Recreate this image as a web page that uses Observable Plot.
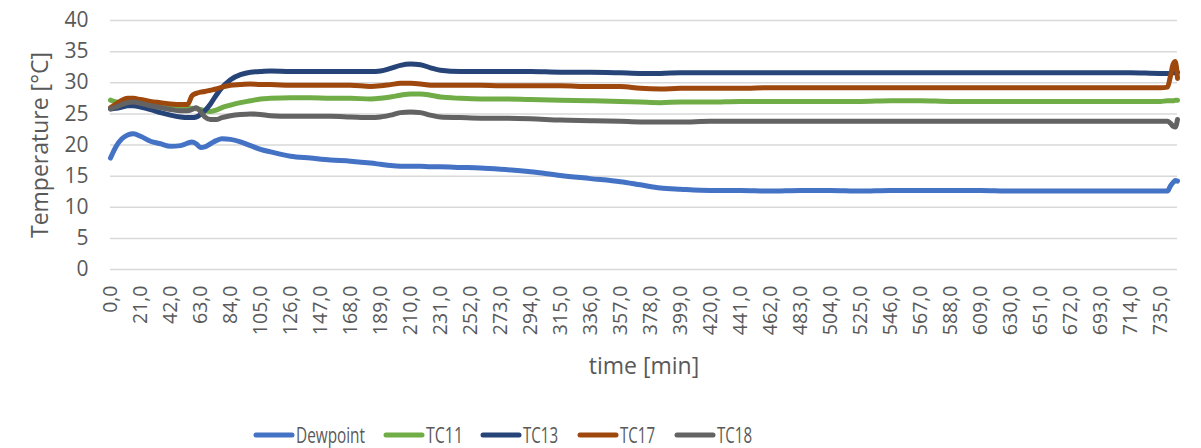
<!DOCTYPE html>
<html>
<head>
<meta charset="utf-8">
<script src="https://cdn.jsdelivr.net/npm/d3@7"></script>
<script src="https://cdn.jsdelivr.net/npm/@observablehq/plot@0.6"></script>
<style>
  html, body { margin: 0; padding: 0; background: #fff; }
  #wrap { width: 1201px; height: 448px; overflow: hidden; font-family: "Open Sans", sans-serif; }
  #wrap svg { display: block; }
</style>
</head>
<body>
<div id="wrap"></div>
<script>
// ---- data ----
const seriesNames = ["Dewpoint", "TC11", "TC13", "TC17", "TC18"];
const seriesColors = ["#4472C4", "#70AD47", "#264478", "#9E480E", "#636363"];

const timeMin = [0,4,8,12,16,21,28,35,42,49,54,57,60,63,66,70,74,78,84,91,98,105,112,126,140,154,168,182,189,196,203,210,217,224,231,245,259,273,294,315,336,357,371,385,399,420,441,462,483,504,525,546,567,588,609,630,651,672,693,714,735,740,742,744,745.5,747];

const dewpoint = [17.9,19.8,21.0,21.6,21.8,21.4,20.6,20.2,19.8,19.9,20.3,20.5,20.2,19.6,19.7,20.2,20.7,21.0,20.9,20.5,19.9,19.3,18.9,18.2,17.9,17.6,17.4,17.1,16.9,16.7,16.6,16.6,16.6,16.5,16.5,16.4,16.3,16.1,15.7,15.1,14.6,14.1,13.6,13.1,12.9,12.7,12.7,12.6,12.7,12.7,12.6,12.7,12.7,12.7,12.7,12.6,12.6,12.6,12.6,12.6,12.6,12.6,13.4,14.0,14.3,14.2];

const tc11 = [27.2,26.9,26.8,26.8,26.8,26.7,26.5,26.3,26.1,26.0,25.9,25.9,25.8,25.7,25.5,25.4,25.6,26.0,26.4,26.8,27.1,27.4,27.5,27.6,27.6,27.5,27.5,27.4,27.5,27.7,28.0,28.2,28.2,28.0,27.7,27.5,27.4,27.4,27.3,27.2,27.1,27.0,26.9,26.8,26.9,26.9,27.0,27.0,27.0,27.0,27.0,27.1,27.1,27.0,27.0,27.0,27.0,27.0,27.0,27.0,27.0,27.1,27.1,27.1,27.2,27.2];

const tc13 = [25.8,25.9,26.1,26.3,26.3,26.1,25.7,25.2,24.8,24.5,24.4,24.4,24.5,24.9,25.5,26.6,28.0,29.2,30.5,31.3,31.7,31.8,31.9,31.8,31.8,31.8,31.8,31.8,31.9,32.3,32.8,33.0,32.9,32.4,32.0,31.8,31.8,31.8,31.8,31.7,31.7,31.6,31.5,31.5,31.6,31.6,31.6,31.6,31.6,31.6,31.6,31.6,31.6,31.6,31.6,31.6,31.6,31.6,31.6,31.6,31.5,31.5,31.5,31.6,31.6,31.7];

const tc17 = [26.0,26.6,27.2,27.5,27.5,27.3,27.0,26.8,26.6,26.5,26.5,27.9,28.3,28.5,28.6,28.8,29.0,29.3,29.6,29.7,29.8,29.7,29.7,29.6,29.6,29.6,29.6,29.4,29.5,29.7,29.9,29.9,29.8,29.6,29.6,29.6,29.6,29.5,29.5,29.5,29.4,29.4,29.1,29.0,29.1,29.1,29.1,29.2,29.2,29.2,29.2,29.2,29.2,29.2,29.2,29.2,29.2,29.2,29.2,29.2,29.2,29.3,31.0,33.0,33.4,30.7];

const tc18 = [25.8,26.1,26.5,26.8,26.9,26.7,26.3,26.0,25.7,25.5,25.5,25.7,26.0,25.4,24.5,24.1,24.1,24.4,24.7,24.9,25.0,24.9,24.7,24.6,24.6,24.6,24.5,24.4,24.5,24.8,25.2,25.3,25.2,24.8,24.5,24.4,24.3,24.3,24.2,24.0,23.9,23.8,23.7,23.7,23.7,23.8,23.8,23.8,23.8,23.8,23.8,23.8,23.8,23.8,23.8,23.8,23.8,23.8,23.8,23.8,23.8,23.8,23.5,23.0,22.9,24.1];

const xTicks = d3.range(0, 736, 21);
const yTicks = d3.range(0, 41, 5);
const xLabel = "time [min]";
const yLabel = "Temperature [°C]";

// ---- build table ----
const valueSets = [dewpoint, tc11, tc13, tc17, tc18];
const rows = [];
seriesNames.forEach((name, i) => {
  timeMin.forEach((t, j) => rows.push({series: name, t, v: valueSets[i][j]}));
});

const chart = Plot.plot({
  width: 1201,
  height: 405,
  marginLeft: 110,
  marginRight: 24,
  marginTop: 20,
  marginBottom: 136,
  style: {fontFamily: "'Open Sans', sans-serif", fontSize: "18px", color: "#595959", background: "#fff"},
  x: {domain: [0, 747]},
  y: {domain: [0, 40]},
  color: {domain: seriesNames, range: seriesColors},
  marks: [
    Plot.gridY(yTicks, {stroke: "#d9d9d9", strokeOpacity: 1, strokeWidth: 1.5}),
    Plot.axisY(yTicks, {tickSize: 0, tickPadding: 22, fontSize: 21, label: null, fill: "#595959"}),
    Plot.axisX(xTicks, {tickSize: 0, tickPadding: 16, tickRotate: -90, fontSize: 19.5, label: null, fill: "#595959",
      tickFormat: d => d.toFixed(1).replace(".", ",")}),
    Plot.line(rows, {x: "t", y: "v", z: "series", stroke: "series", strokeWidth: 5, curve: "monotone-x", strokeLinejoin: "round", strokeLinecap: "round"}),
    Plot.text([xLabel], {frameAnchor: "bottom", dy: 97, lineAnchor: "middle", text: d => d, fontSize: 23, fill: "#595959"}),
    Plot.text([yLabel], {frameAnchor: "left", dx: -70, rotate: -90, textAnchor: "middle", lineAnchor: "middle", text: d => d, fontSize: 23, fill: "#595959"})
  ]
});

const wrap = document.getElementById("wrap");
wrap.appendChild(chart);

// legend (separate SVG below the chart)
const legendSwatchX = [254, 384, 481, 578, 675];
const legendTextLen = [69, 37, 35, 35, 35];
const leg = d3.select(wrap).append("svg")
  .attr("width", 1201).attr("height", 43)
  .style("display", "block")
  .attr("font-family", "'Open Sans', sans-serif");
seriesNames.forEach((name, i) => {
  leg.append("line")
    .attr("x1", legendSwatchX[i] + 2).attr("x2", legendSwatchX[i] + 38)
    .attr("y1", 30).attr("y2", 30)
    .attr("stroke", seriesColors[i]).attr("stroke-width", 5).attr("stroke-linecap", "round");
  leg.append("text")
    .attr("x", legendSwatchX[i] + 42).attr("y", 38)
    .attr("font-size", 22).attr("fill", "#595959")
    .attr("textLength", legendTextLen[i]).attr("lengthAdjust", "spacingAndGlyphs")
    .text(name);
});
</script>
</body>
</html>
